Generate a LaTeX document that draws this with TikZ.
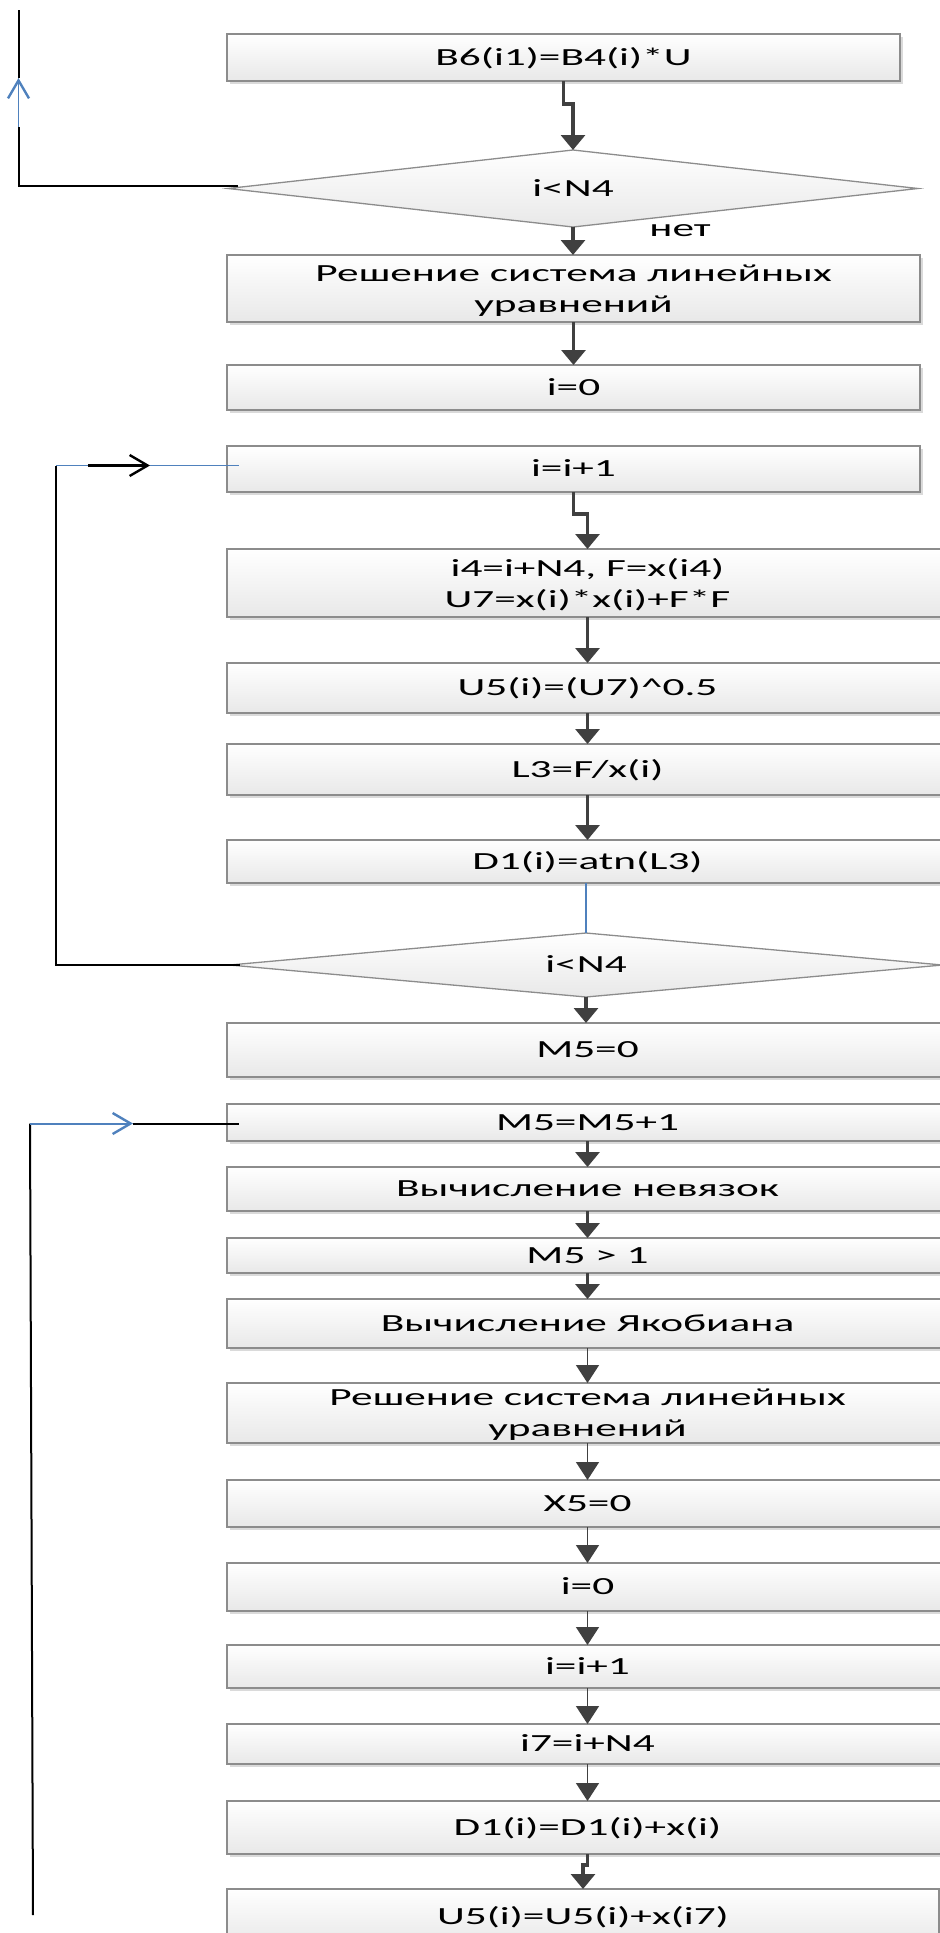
\documentclass[tikz,border=0pt]{standalone}
\usepackage{fontspec}
\setmainfont{Carlito}[FakeStretch=1.76]
\usetikzlibrary{arrows.meta,shapes.geometric,shadows}

\definecolor{edgegray}{HTML}{8C8C8C}
\definecolor{flowgray}{HTML}{404040}
\definecolor{loopblue}{HTML}{4F81BD}
\definecolor{shadowgray}{HTML}{DADADA}

\tikzset{
  basefont/.style={font=\fontsize{12.3}{15.5}\selectfont},
  stepbox/.style={basefont, draw=edgegray, line width=0.65pt,
    top color=white, bottom color=black!9,
    drop shadow={shadow xshift=1.6pt, shadow yshift=-1.6pt, fill=shadowgray, opacity=1},
    inner sep=0pt, outer sep=0pt, align=center},
  oneline/.style={text height=7.9pt, text depth=0pt},
  twoline/.style={text depth=0pt},
  narrowbox/.style={stepbox, minimum width=346.5pt},
  widebox/.style={stepbox, minimum width=360.5pt},
  decision/.style={basefont, shape=diamond, aspect=9, draw=edgegray, line width=0.65pt,
    top color=white, bottom color=black!9,
    inner sep=0pt, outer sep=0pt, oneline},
  flow/.style={draw=flowgray, line width=1.6pt,
    -{Triangle[length=7.5pt, width=12pt]}},
  thinflow/.style={draw=flowgray, line width=0.7pt,
    -{Triangle[length=9pt, width=11.5pt]}},
  loopblack/.style={draw=black, line width=1pt},
  loopline/.style={draw=loopblue, line width=0.8pt},
  barb/.style={-{Straight Barb[length=9pt, width=10.5pt, line width=1.2pt]}},
  note/.style={basefont, inner sep=0pt},
}

\begin{document}
\begin{tikzpicture}[x=0.5pt, y=-0.5pt]
  \useasboundingbox (0,0) rectangle (940,1933);
  \clip (0,0) rectangle (940,1933);

  % ---- first loop: product and test ----
  \node[stepbox, oneline, minimum width=336.5pt, minimum height=23.5pt] (b1) at (563.5,57.5) {B6(i1)=B4(i)*U};
  \node[decision, minimum width=345pt, minimum height=38.5pt] (d1) at (573,188.5) {i<N4};
  \node[note] (no1) at (680,231) {нет};
  \node[narrowbox, twoline, minimum height=33.5pt] (b2) at (573.5,288.5) {Решение система линейных\\уравнений};
  \node[narrowbox, oneline, minimum height=22.5pt] (b3) at (573.5,387.5) {i=0};

  % ---- second loop: polar form ----
  \node[narrowbox, oneline, minimum height=23pt] (b4) at (573.5,469) {i=i+1};
  \node[widebox, twoline, minimum height=34pt] (b5) at (587.5,583) {i4=i+N4, F=x(i4)\\U7=x(i)*x(i)+F*F};
  \node[widebox, oneline, minimum height=25pt] (b6) at (587.5,688) {U5(i)=(U7)\textasciicircum0.5};
  \node[widebox, oneline, minimum height=25.5pt] (b7) at (587.5,769.5) {L3=F/x(i)};
  \node[widebox, oneline, minimum height=21.5pt] (b8) at (587.5,861.5) {D1(i)=atn(L3)};
  \node[decision, minimum width=356.5pt, minimum height=32pt] (d2) at (586,965) {i<N4};
  \node[widebox, oneline, minimum height=27pt] (b9) at (587.5,1050) {M5=0};

  % ---- Newton iteration ----
  \node[widebox, oneline, minimum height=18.5pt] (b10) at (587.5,1122.5) {M5=M5+1};
  \node[widebox, oneline, minimum height=22pt] (b11) at (587.5,1189) {Вычисление невязок};
  \node[widebox, oneline, minimum height=17.5pt] (b12) at (587.5,1255.5) {M5 > 1};
  \node[widebox, oneline, minimum height=24.5pt] (b13) at (587.5,1323.5) {Вычисление Якобиана};
  \node[widebox, twoline, minimum height=30pt] (b14) at (587.5,1413) {Решение система линейных\\уравнений};
  \node[widebox, oneline, minimum height=23.5pt] (b15) at (587.5,1503.5) {X5=0};
  \node[widebox, oneline, minimum height=24pt] (b16) at (587.5,1587) {i=0};
  \node[widebox, oneline, minimum height=21.5pt] (b17) at (587.5,1666.5) {i=i+1};
  \node[widebox, oneline, minimum height=20pt] (b18) at (587.5,1744) {i7=i+N4};
  \node[widebox, oneline, minimum height=26.5pt] (b19) at (587.5,1827.5) {D1(i)=D1(i)+x(i)};
  \node[stepbox, oneline, minimum width=356pt, minimum height=28pt] (b20) at (583,1917) {U5(i)=U5(i)+x(i7)};

  % ---- main flow ----
  \draw[flow] (b1.south) -- ++(0,23) -| (d1.north);
  \draw[flow] (d1.south) -- (d1.south |- b2.north);
  \draw[flow] (b2.south) -- (b3.north);
  \draw[flow] (b4.south) -- ++(0,22) -| (b5.north);
  \draw[flow] (b5.south) -- (b6.north);
  \draw[flow] (b6.south) -- (b7.north);
  \draw[flow] (b7.south) -- (b8.north);
  \draw[loopline] (d2.north |- b8.south) -- (d2.north);
  \draw[flow] (d2.south) -- (d2.south |- b9.north);
  \draw[flow] (b10.south) -- (b11.north);
  \draw[flow] (b11.south) -- (b12.north);
  \draw[flow] (b12.south) -- (b13.north);
  \draw[thinflow] (b13.south) -- (b14.north);
  \draw[thinflow] (b14.south) -- (b15.north);
  \draw[thinflow] (b15.south) -- (b16.north);
  \draw[thinflow] (b16.south) -- (b17.north);
  \draw[thinflow] (b17.south) -- (b18.north);
  \draw[thinflow] (b18.south) -- (b19.north);
  \draw[flow] (b19.south) -- ++(0,11) -| (b20.north);

  % ---- return line of the first loop ----
  \coordinate (r1top) at (18.5,10);
  \coordinate (r1blue) at (18.5,127);
  \coordinate (r1tip) at (18.5,78);
  \draw[loopblack] ([xshift=5pt, yshift=1.5pt]d1.west) -| (r1blue);
  \draw[loopline, barb] (r1blue) -- (r1tip);
  \draw[loopblack] (r1tip) -- (r1top);

  % ---- return line of the second loop ----
  \coordinate (r2corner) at (56,465.5);
  \coordinate (r2a) at (88,465.5);
  \coordinate (r2b) at (150,465.5);
  \draw[loopblack] ([xshift=5pt]d2.west) -| (r2corner);
  \draw[loopline] (r2corner) -- (r2a);
  \draw[loopblack, line width=1.2pt, barb] (r2a) -- (r2b);
  \draw[loopline] (r2b) -- ([xshift=6pt, yshift=1.75pt]b4.west);

  % ---- return line of the Newton loop ----
  \coordinate (r3bottom) at (33,1915);
  \coordinate (r3corner) at (30,1123.5);
  \coordinate (r3tip) at (133,1123.5);
  \draw[loopblack] (r3bottom) -- (r3corner);
  \draw[loopline, line width=1pt, barb] (r3corner) -- (r3tip);
  \draw[loopblack] (r3tip) -- ([xshift=6pt, yshift=-0.5pt]b10.west);
\end{tikzpicture}
\end{document}
